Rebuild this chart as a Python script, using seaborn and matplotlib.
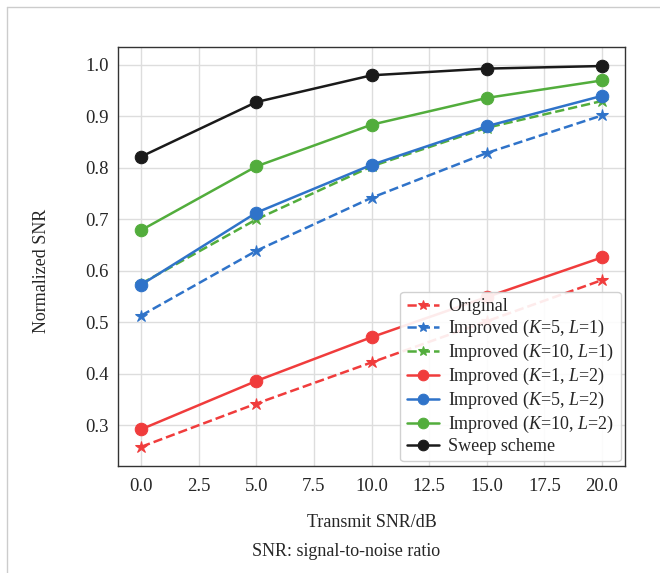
import numpy as np
import pandas as pd
import matplotlib
matplotlib.use('Agg')
import matplotlib.pyplot as plt
import seaborn as sb

snr_db = [0, 5, 10, 15, 20]

original = [0.258, 0.342, 0.422, 0.502, 0.582]
k5_l1 = [0.513, 0.639, 0.742, 0.829, 0.902]
k10_l1 = [0.575, 0.700, 0.803, 0.878, 0.930]
k1_l2 = [0.292, 0.386, 0.471, 0.549, 0.626]
k5_l2 = [0.573, 0.713, 0.806, 0.881, 0.940]
k10_l2 = [0.679, 0.803, 0.884, 0.936, 0.970]
sweep = [0.822, 0.928, 0.980, 0.993, 0.998]

labels = ['Original',
          'Improved ($K$=5, $L$=1)',
          'Improved ($K$=10, $L$=1)',
          'Improved ($K$=1, $L$=2)',
          'Improved ($K$=5, $L$=2)',
          'Improved ($K$=10, $L$=2)',
          'Sweep scheme']

red = '#f03c3c'
blue = '#2f73c9'
green = '#52ad3c'
black = '#1a1a1a'

series = [
    (original, red, '--', '*'),
    (k5_l1, blue, '--', '*'),
    (k10_l1, green, '--', '*'),
    (k1_l2, red, '-', 'o'),
    (k5_l2, blue, '-', 'o'),
    (k10_l2, green, '-', 'o'),
    (sweep, black, '-', 'o'),
]

sb.set_style('whitegrid')
plt.rcParams['font.family'] = ['Liberation Serif', 'DejaVu Serif']
plt.rcParams['mathtext.fontset'] = 'custom'
plt.rcParams['mathtext.rm'] = 'Liberation Serif'
plt.rcParams['mathtext.it'] = 'Liberation Serif:italic'

fig = plt.figure(figsize=(6.6, 5.73), dpi=100)
ax = fig.add_axes([0.179, 0.187, 0.768, 0.731])

for (vals, col, ls, mk), lab in zip(series, labels):
    df = pd.DataFrame({'snr': snr_db, 'val': vals})
    sb.lineplot(data=df, x='snr', y='val', ax=ax, color=col, linestyle=ls,
                marker=mk, markersize=9,
                markeredgecolor=col, linewidth=1.8, label=lab)

ax.set_xticks(np.arange(0, 20.1, 2.5))
ax.set_yticks(np.arange(0.3, 1.01, 0.1))
ax.set_xlim(-1, 21)
ax.set_ylim(0.221, 1.035)
ax.tick_params(labelsize=13.5, length=0)
ax.tick_params(axis='x', pad=9)
ax.tick_params(axis='y', pad=7)
ax.grid(color='#dddddd', linewidth=1)
for s in ax.spines.values():
    s.set_color('#333333')
    s.set_linewidth(1.0)

ax.set_xlabel('Transmit SNR/dB', fontsize=13)
ax.set_ylabel('Normalized SNR', fontsize=13)
ax.xaxis.set_label_coords(0.5, -0.115)
ax.yaxis.set_label_coords(-0.135, 0.465)
ax.legend(loc='lower right', fontsize=13, handlelength=1.8, handletextpad=0.5,
          borderaxespad=0.25, labelspacing=0.16, borderpad=0.35,
          markerscale=0.85, framealpha=0.9)

fig.text(0.524, 0.037, 'SNR: signal-to-noise ratio', fontsize=13,
         ha='center', va='center')

# thin page frame lines
fig.add_artist(plt.Line2D([0.011, 0.011], [0, 0.988], color='#cccccc', lw=1))
fig.add_artist(plt.Line2D([0.011, 1], [0.988, 0.988], color='#cccccc', lw=1))

fig.savefig('out.png', dpi=100)
